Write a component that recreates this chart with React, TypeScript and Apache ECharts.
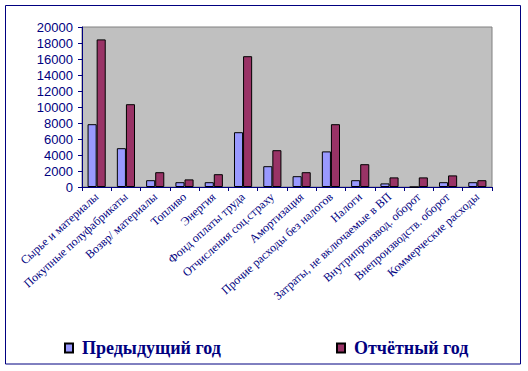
import React, { useEffect, useRef } from "react";
import * as echarts from "echarts";

const categories = [
  "Сырье и материалы",
  "Покупные полуфабрикаты",
  "Возвр/ материалы",
  "Топливо",
  "Энергия",
  "Фонд оплаты труда",
  "Отчисления соц.страху",
  "Амортизация",
  "Прочие расходы без налогов",
  "Налоги",
  "Затраты, не включаемые в ВП",
  "Внутрипроизвод. оборот",
  "Внепроизводств. оборот",
  "Коммерческие расходы",
];
const previousYear = [7850, 4850, 850, 600, 600, 6850, 2600, 1350, 4450, 850, 450, 0, 600, 600];
const reportYear = [18450, 10350, 1850, 950, 1600, 16350, 4600, 1850, 7850, 2850, 1200, 1200, 1450, 850];
const yTicks = { min: 0, max: 20000, interval: 2000 };
const seriesNames = ["Предыдущий год", "Отчётный год"];

const NAVY = "#000080";
const SERIF = "Liberation Serif";
const SANS = "Liberation Sans";

export default function App() {
  const ref = useRef<HTMLDivElement>(null);
  useEffect(() => {
    if (!ref.current) return;
    const chart = echarts.init(ref.current, undefined, { renderer: "svg" });
    const legendText = { fontFamily: SERIF, fontSize: 18, fontWeight: "bold", color: NAVY, padding: [0, 0, 0, 4] };
    chart.setOption({
      animation: false,
      backgroundColor: "#ffffff",
      grid: { left: 82, top: 27, width: 410, height: 160, show: true, backgroundColor: "#C0C0C0", borderColor: "#808080", borderWidth: 1 },
      graphic: [
        {
          type: "rect",
          shape: { x: 5.5, y: 5.5, width: 515, height: 358.5 },
          style: { fill: "none", stroke: NAVY, lineWidth: 1 },
          silent: true,
        },
      ],
      legend: [
        {
          data: [seriesNames[0]],
          left: 64,
          top: 339,
          padding: 0,
          icon: "rect",
          itemWidth: 8,
          itemHeight: 9,
          itemGap: 0,
          textStyle: legendText,
        },
        {
          data: [seriesNames[1]],
          left: 336,
          top: 339,
          padding: 0,
          icon: "rect",
          itemWidth: 8,
          itemHeight: 9,
          itemGap: 0,
          textStyle: legendText,
        },
      ],
      xAxis: {
        type: "category",
        data: categories,
        boundaryGap: true,
        axisLine: { lineStyle: { color: NAVY, width: 1 } },
        axisTick: { show: true, length: 4, alignWithLabel: false, lineStyle: { color: NAVY } },
        axisLabel: { interval: 0, rotate: 42, margin: 8, fontFamily: SERIF, fontSize: 12, color: NAVY },
        splitLine: { show: false },
      },
      yAxis: {
        type: "value",
        min: yTicks.min,
        max: yTicks.max,
        interval: yTicks.interval,
        axisLine: { show: true, lineStyle: { color: NAVY, width: 1 } },
        axisTick: { show: true, length: 4, lineStyle: { color: NAVY } },
        axisLabel: { margin: 9, fontFamily: SANS, fontSize: 13, color: NAVY, formatter: (v: number) => String(v) },
        splitLine: { show: false },
      },
      series: [
        {
          name: seriesNames[0],
          type: "bar",
          data: previousYear,
          barGap: "0%",
          barCategoryGap: "38%",
          itemStyle: { color: "#9999FF", borderColor: "#000000", borderWidth: 1 },
        },
        {
          name: seriesNames[1],
          type: "bar",
          data: reportYear,
          barGap: "0%",
          barCategoryGap: "38%",
          itemStyle: { color: "#993366", borderColor: "#000000", borderWidth: 1 },
        },
      ],
    });
    return () => chart.dispose();
  }, []);
  return (
    <div style={{ position: "absolute", left: 0, top: 0, width: 528, height: 371 }}>
      <div ref={ref} style={{ width: 528, height: 371 }} />
    </div>
  );
}
